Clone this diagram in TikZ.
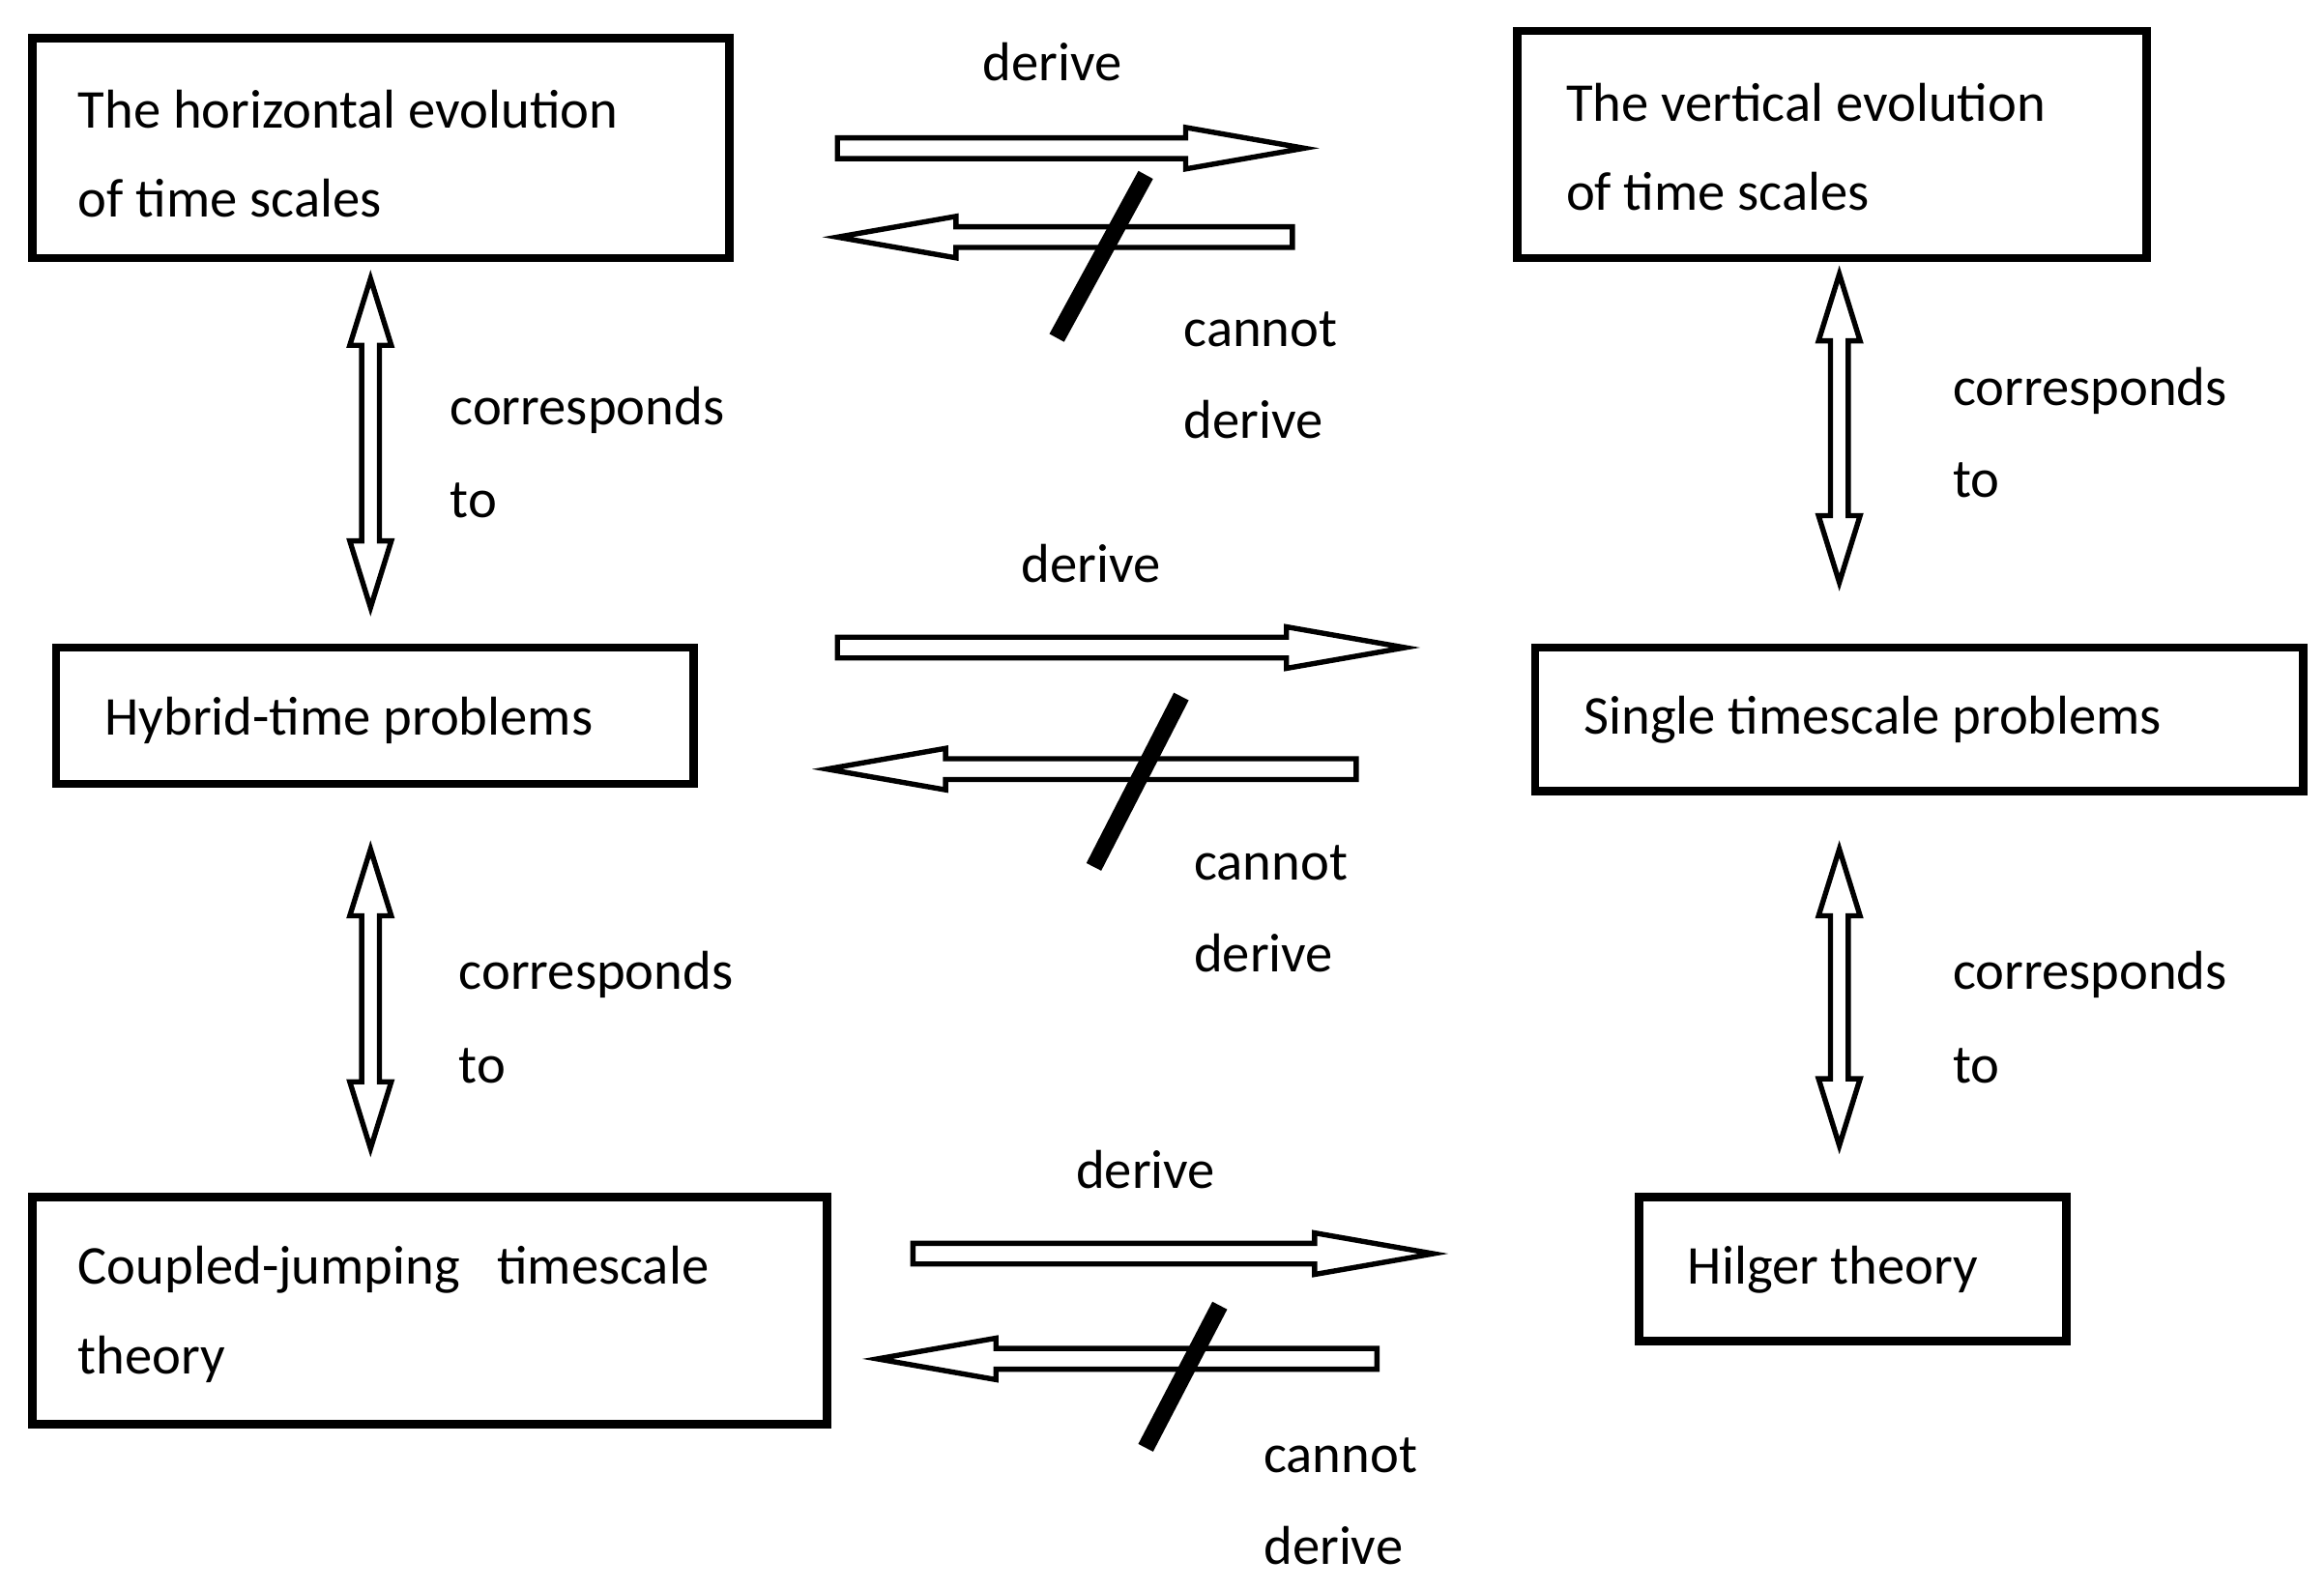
\documentclass[tikz,border=0pt]{standalone}
\usepackage{fontspec}
\setmainfont{Carlito}
\begin{document}
\newcommand\rarr[3]{\draw[harr] (#1,#3-7) -- (#2-80,#3-7) -- (#2-80,#3-14) -- (#2,#3) -- (#2-80,#3+14) -- (#2-80,#3+7) -- (#1,#3+7) -- cycle;}
\newcommand\larr[3]{\draw[harr] (#1,#3-7) -- (#2+80,#3-7) -- (#2+80,#3-14) -- (#2,#3) -- (#2+80,#3+14) -- (#2+80,#3+7) -- (#1,#3+7) -- cycle;}
\newcommand\varr[3]{\draw[harr] (#1,#2) -- (#1+14,#2+45) -- (#1+6,#2+45) -- (#1+6,#3-45) -- (#1+14,#3-45) -- (#1,#3) -- (#1-14,#3-45) -- (#1-6,#3-45) -- (#1-6,#2+45) -- (#1-14,#2+45) -- cycle;}
\begin{tikzpicture}[x=0.01cm,y=-0.01cm,
 box/.style={draw,line width=1.6pt,inner sep=0pt},
 txt/.style={anchor=west,inner sep=0pt,font=\fontsize{10.5}{12}\selectfont},
 ctxt/.style={inner sep=0pt,font=\fontsize{10.5}{12}\selectfont},
 harr/.style={draw,line width=1pt,fill=white},
 slash/.style={line width=3.2pt}]
\useasboundingbox (0,0) rectangle (1568,1072);
\node[box,minimum width=4.70cm,minimum height=1.48cm] (b1) at (257,100) {};
\node[box,minimum width=4.24cm,minimum height=1.53cm] (b2) at (1236,97.5) {};
\node[box,minimum width=4.30cm,minimum height=0.92cm] (b3) at (253,483) {};
\node[box,minimum width=5.18cm,minimum height=0.97cm] (b4) at (1295,485.5) {};
\node[box,minimum width=5.36cm,minimum height=1.53cm] (b5) at (290,884.5) {};
\node[box,minimum width=2.88cm,minimum height=0.97cm] (b6) at (1250,856.5) {};
\node[txt] (t1a) at (52,74) {The horizontal evolution};
\node[txt] (t1b) at (52,134) {of time scales};
\node[txt] (t2a) at (1056,69) {The vertical evolution};
\node[txt] (t2b) at (1056,129) {of time scales};
\node[txt] (t3) at (70,486) {Hybrid-time problems};
\node[txt] (t4) at (1068,486) {Single timescale problems};
\node[txt] (t5a) at (52,857) {Coupled-jumping\ \ \ timescale};
\node[txt] (t5b) at (52,917) {theory};
\node[txt] (t6) at (1138,857) {Hilger theory};
% horizontal arrows
\rarr{565}{880}{100}
\larr{872}{565}{160}
\draw[slash] (713,228) -- (773,118);
\node[ctxt] (d1) at (710,42) {derive};
\node[txt] (c1a) at (798,222) {cannot};
\node[txt] (c1b) at (798,283) {derive};
\rarr{565}{948}{437}
\larr{915}{558}{519}
\draw[slash] (738,585) -- (797,470);
\node[ctxt] (d2) at (736,380) {derive};
\node[txt] (c2a) at (805,582) {cannot};
\node[txt] (c2b) at (805,643) {derive};
\rarr{616}{967}{846}
\larr{929}{592}{917}
\draw[slash] (773,977) -- (823,881);
\node[ctxt] (d3) at (773,789) {derive};
\node[txt] (c3a) at (852,982) {cannot};
\node[txt] (c3b) at (852,1043) {derive};
% vertical arrows
\varr{250}{188}{410}
\varr{250}{573}{775}
\varr{1241}{185}{393}
\varr{1241}{573}{773}
\node[txt] (r1a) at (303,277) {corresponds};
\node[txt] (r1b) at (303,338) {to};
\node[txt] (r2a) at (309,658) {corresponds};
\node[txt] (r2b) at (309,719) {to};
\node[txt] (r3a) at (1317,264) {corresponds};
\node[txt] (r3b) at (1317,324) {to};
\node[txt] (r4a) at (1317,658) {corresponds};
\node[txt] (r4b) at (1317,719) {to};
\end{tikzpicture}
\end{document}
